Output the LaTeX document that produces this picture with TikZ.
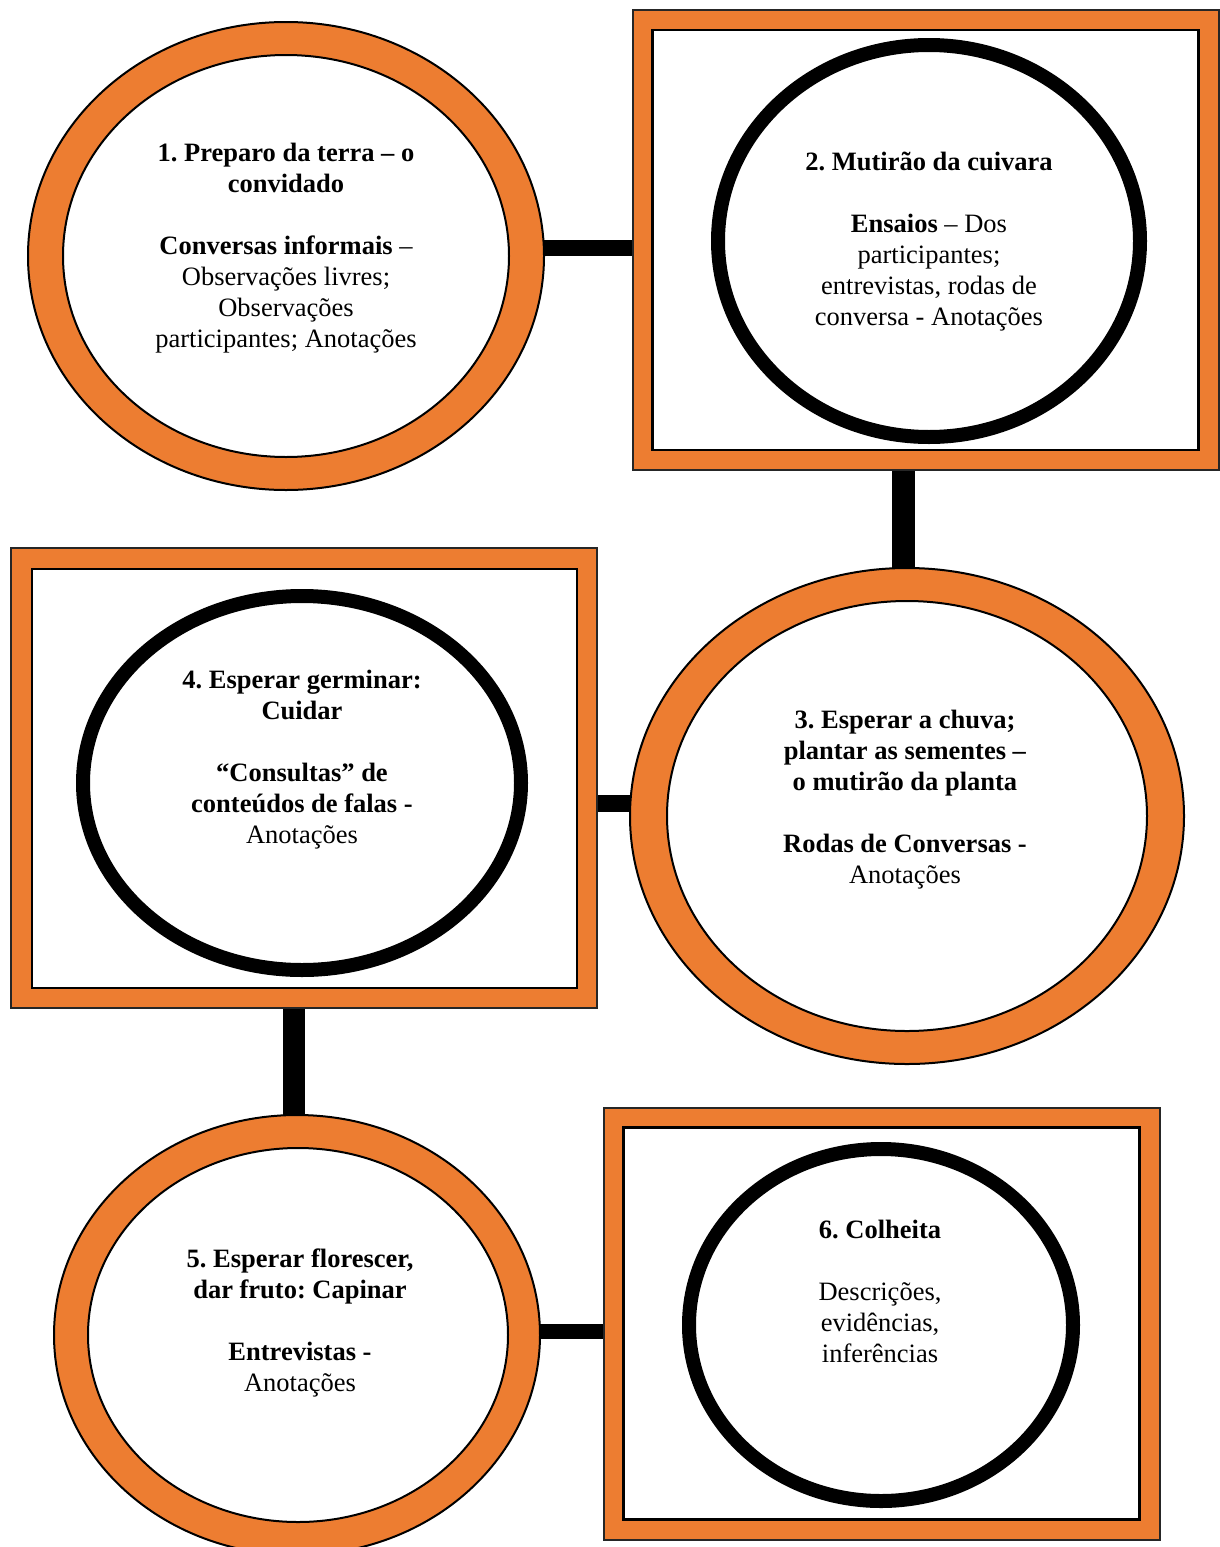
\documentclass[tikz,border=0pt]{standalone}
\usepackage{fontspec}
\setmainfont{Liberation Serif}
\usetikzlibrary{shapes.geometric,backgrounds,calc}
\definecolor{ringorange}{HTML}{ED7D31}
\frenchspacing
\tikzset{
  ringout/.style={ellipse,draw=black,line width=2pt,fill=ringorange,inner sep=0pt},
  ringin/.style={ellipse,draw=black,line width=2pt,fill=white,inner sep=0pt},
  frameout/.style={rectangle,draw=black!85,line width=2pt,fill=ringorange,inner sep=0pt},
  framein/.style={rectangle,draw=black,line width=2.5pt,fill=white,inner sep=0pt},
  blackoval/.style={ellipse,draw=black,line width=14pt,fill=white,inner sep=0pt},
  label/.style={align=center,font=\fontsize{26.5}{31}\selectfont,inner sep=0pt},
  hbar/.style={draw=black,line width=16pt},
  vbar/.style={draw=black,line width=22pt}
}
\begin{document}
\begin{tikzpicture}[x=1pt,y=-1pt]
\useasboundingbox (0,0) rectangle (1219,1547);

% step 1: orange ring
\node[ringout,minimum width=516pt,minimum height=468pt] (c1o) at (286,256) {};
\node[ringin,minimum width=446pt,minimum height=402pt] (c1) at (286,256) {};
\node[label] (t1) at (286,248) {\textbf{1. Preparo da terra – o}\\ \textbf{convidado}\\[31pt] \textbf{Conversas informais} –\\ Observações livres;\\ Observações\\ participantes; Anotações};

% step 2: framed black oval
\node[frameout,minimum width=586pt,minimum height=460pt] (b2) at (925.5,240) {};
\node[framein,minimum width=546pt,minimum height=420pt] (b2i) at (925.5,240) {};
\node[blackoval,minimum width=422pt,minimum height=392pt] (c2) at (929,241) {};
\node[label] (t2) at (929,242) {\textbf{2. Mutirão da cuivara}\\[31pt] \textbf{Ensaios} – Dos\\ participantes;\\ entrevistas, rodas de\\ conversa - Anotações};

% step 3: orange ring
\node[ringout,minimum width=554pt,minimum height=496pt] (c3o) at (907,816) {};
\node[ringin,minimum width=480pt,minimum height=430pt] (c3) at (907,816) {};
\node[label] (t3) at (905,800) {\textbf{3. Esperar a chuva;}\\ \textbf{plantar as sementes –}\\ \textbf{o mutirão da planta}\\[31pt] \textbf{Rodas de Conversas -}\\ Anotações};

% step 4: framed black oval
\node[frameout,minimum width=586pt,minimum height=460pt] (b4) at (303.5,778) {};
\node[framein,minimum width=545pt,minimum height=419pt] (b4i) at (304.5,778.5) {};
\node[blackoval,minimum width=438pt,minimum height=374pt] (c4) at (302,783) {};
\node[label] (t4) at (302,760) {\textbf{4. Esperar germinar:}\\ \textbf{Cuidar}\\[31pt] \textbf{“Consultas” de}\\ \textbf{conteúdos de falas -}\\ Anotações};

% step 5: orange ring
\node[ringout,minimum width=486pt,minimum height=440pt] (c5o) at (297,1335) {};
\node[ringin,minimum width=420pt,minimum height=374pt] (c5) at (298,1335) {};
\node[label] (t5) at (300,1323) {\textbf{5. Esperar florescer,}\\ \textbf{dar fruto: Capinar}\\[31pt] \textbf{Entrevistas -}\\ Anotações};

% step 6: framed black oval
\node[frameout,minimum width=556pt,minimum height=432pt] (b6) at (881.5,1323.5) {};
\node[framein,minimum width=516pt,minimum height=392pt] (b6i) at (881.5,1323.5) {};
\node[blackoval,minimum width=384pt,minimum height=352pt] (c6) at (881,1325) {};
\node[label] (t6) at (880,1291) {\textbf{6. Colheita}\\[31pt] Descrições,\\ evidências,\\ inferências};

% connectors, drawn behind the shapes
\begin{scope}[on background layer]
  \draw[hbar] ([yshift=8pt]c1o.center) -- ([yshift=8pt]c1o.center -| b2.center);
  \draw[vbar,line width=23pt] ([xshift=-22.5pt]b2.center) -- ([xshift=-22.5pt]b2.center |- c3o.center);
  \draw[hbar,line width=17pt] ([yshift=-25pt]b4.center) -- ([yshift=-25pt]b4.center -| c3o.center);
  \draw[vbar] ([xshift=-9.5pt]b4.center) -- ([xshift=-9.5pt]b4.center |- c5o.center);
  \draw[hbar,line width=15pt] ([yshift=4pt]c5o.center) -- ([yshift=4pt]c5o.center -| b6.center);
\end{scope}
\end{tikzpicture}
\end{document}
